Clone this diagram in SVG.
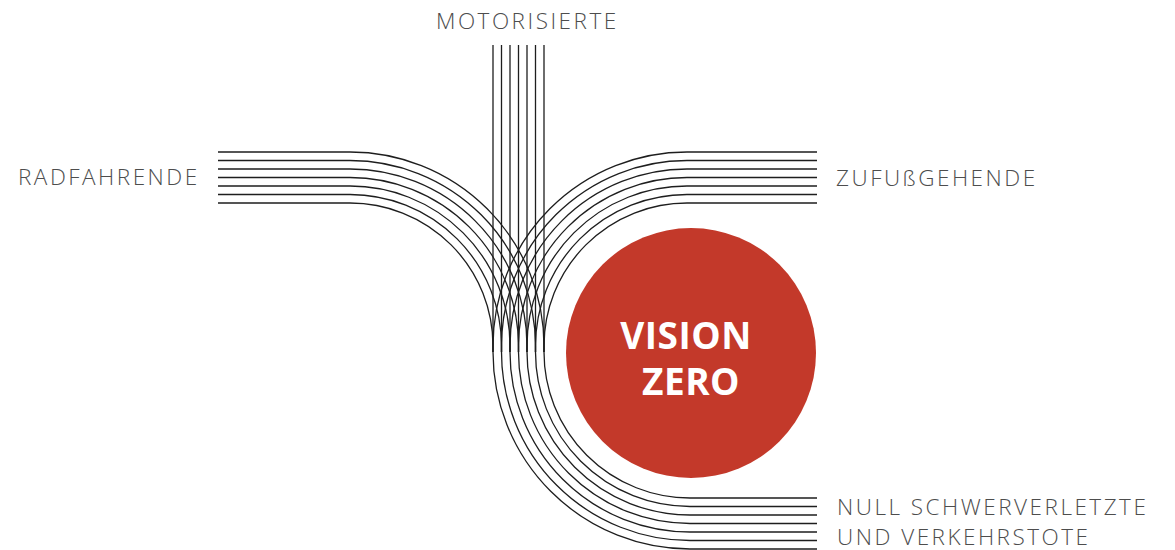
<svg xmlns="http://www.w3.org/2000/svg" width="1175" height="550" viewBox="0 0 1175 550">
  <style>
    .lane { fill: none; stroke: #1e1e1e; stroke-width: 1.3; }
    .label { font-family: "Open Sans", "Liberation Sans", sans-serif; font-weight: 300; font-size: 22.5px; letter-spacing: 2.5px; fill: #4d4d4d; }
    .core { font-family: "Open Sans", "Liberation Sans", sans-serif; font-weight: 700; font-size: 37px; letter-spacing: 0.5px; fill: #ffffff; text-anchor: middle; }
  </style>
  <rect width="1175" height="550" fill="#ffffff"/>

  <!-- Connectors: three bundles of seven lanes merging into one trunk -->
  <g id="connectors">
    <!-- from the left (cyclists) -->
    <g id="lanes-rad" class="lane">
      <path d="M218 203 H350 A143 143 0 0 1 493 346 V352"/>
      <path d="M218 194.5 H350 A151.5 151.5 0 0 1 501.5 346 V352"/>
      <path d="M218 186 H350 A160 160 0 0 1 510 346 V352"/>
      <path d="M218 177.5 H350 A168.5 168.5 0 0 1 518.5 346 V352"/>
      <path d="M218 169 H350 A177 177 0 0 1 527 346 V352"/>
      <path d="M218 160.5 H350 A185.5 185.5 0 0 1 535.5 346 V352"/>
      <path d="M218 152 H350 A194 194 0 0 1 544 346 V352"/>
    </g>
    <!-- from the top (motorised traffic) -->
    <g id="lanes-motor" class="lane">
      <path d="M493 45 V352"/>
      <path d="M501.5 45 V352"/>
      <path d="M510 45 V352"/>
      <path d="M518.5 45 V352"/>
      <path d="M527 45 V352"/>
      <path d="M535.5 45 V352"/>
      <path d="M544 45 V352"/>
    </g>
    <!-- from the right (pedestrians) -->
    <g id="lanes-fuss" class="lane">
      <path d="M817 152 H687 A194 194 0 0 0 493 346 V352"/>
      <path d="M817 160.5 H687 A185.5 185.5 0 0 0 501.5 346 V352"/>
      <path d="M817 169 H687 A177 177 0 0 0 510 346 V352"/>
      <path d="M817 177.5 H687 A168.5 168.5 0 0 0 518.5 346 V352"/>
      <path d="M817 186 H687 A160 160 0 0 0 527 346 V352"/>
      <path d="M817 194.5 H687 A151.5 151.5 0 0 0 535.5 346 V352"/>
      <path d="M817 203 H687 A143 143 0 0 0 544 346 V352"/>
    </g>
    <!-- shared trunk bending round the goal -->
    <g id="lanes-trunk" class="lane">
      <path d="M493 352 A197 197 0 0 0 690 549 H817"/>
      <path d="M501.5 352 A188.5 188.5 0 0 0 690 540.5 H817"/>
      <path d="M510 352 A180 180 0 0 0 690 532 H817"/>
      <path d="M518.5 352 A171.5 171.5 0 0 0 690 523.5 H817"/>
      <path d="M527 352 A163 163 0 0 0 690 515 H817"/>
      <path d="M535.5 352 A154.5 154.5 0 0 0 690 506.5 H817"/>
      <path d="M544 352 A146 146 0 0 0 690 498 H817"/>
    </g>
  </g>

  <g id="node-motorisierte">
    <text class="label" x="436" y="29">MOTORISIERTE</text>
  </g>
  <g id="node-radfahrende">
    <text class="label" x="18" y="185">RADFAHRENDE</text>
  </g>
  <g id="node-zufussgehende">
    <text class="label" x="836" y="186">ZUFUßGEHENDE</text>
  </g>
  <g id="node-ziel">
    <text class="label" x="837" y="515">NULL SCHWERVERLETZTE</text>
    <text class="label" x="837" y="545">UND VERKEHRSTOTE</text>
  </g>
  <g id="node-vision-zero">
    <circle cx="691" cy="353" r="125" fill="#c3392a"/>
    <text class="core" x="686" y="349">VISION</text>
    <text class="core" x="691" y="395">ZERO</text>
  </g>
</svg>
